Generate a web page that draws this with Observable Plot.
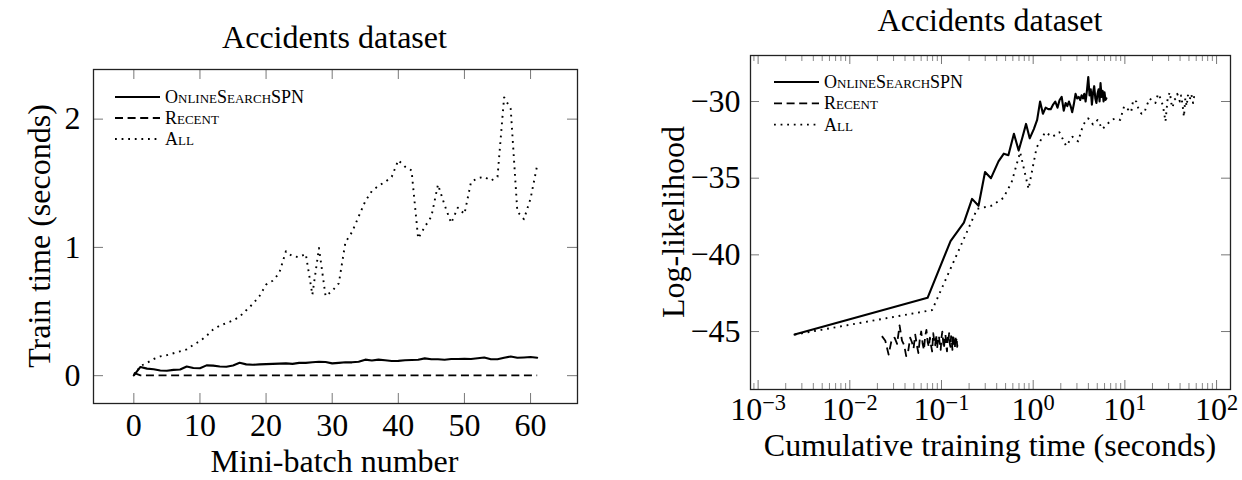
<!DOCTYPE html>
<html><head><meta charset="utf-8">
<script src="https://cdn.jsdelivr.net/npm/d3@7"></script>
<script src="https://cdn.jsdelivr.net/npm/@observablehq/plot@0.6"></script>
<style>
body{margin:0;background:#fff;}
#wrap{position:relative;width:1242px;height:480px;overflow:hidden;background:#fff;}
#left{position:absolute;left:0;top:0;}
#right{position:absolute;left:620px;top:0;}
svg text{font-family:"Liberation Serif","DejaVu Serif",serif;}
</style></head><body><div id="wrap"><div id="left"></div><div id="right"></div></div>
<script>
// ---------- data ----------
const seriesNames = ["OnlineSearchSPN", "Recent", "All"];
const titleText = "Accidents dataset";

// Left panel: train time per mini-batch
const batch = [0,1,2,3,4,5,6,7,8,9,10,11,12,13,14,15,16,17,18,19,20,21,22,23,24,25,26,27,28,29,30,31,32,33,34,35,36,37,38,39,40,41,42,43,44,45,46,47,48,49,50,51,52,53,54,55,56,57,58,59,60,61];
const onlineTime = [0.0025,0.068,0.055,0.05,0.04,0.038,0.045,0.048,0.072,0.06,0.058,0.08,0.078,0.072,0.07,0.08,0.1,0.088,0.085,0.088,0.09,0.092,0.094,0.096,0.092,0.1,0.1,0.104,0.108,0.106,0.096,0.1,0.104,0.104,0.108,0.125,0.118,0.125,0.12,0.114,0.115,0.12,0.122,0.124,0.135,0.128,0.128,0.124,0.13,0.13,0.132,0.13,0.136,0.142,0.128,0.128,0.14,0.15,0.14,0.142,0.145,0.14];
const recentTime = [0.0224,0.0020,0.0021,0.0022,0.0021,0.0020,0.0021,0.0022,0.0021,0.0020,0.0021,0.0022,0.0021,0.0020,0.0021,0.0022,0.0021,0.0020,0.0021,0.0022,0.0021,0.0020,0.0021,0.0022,0.0021,0.0020,0.0021,0.0022,0.0021,0.0020,0.0021,0.0022,0.0021,0.0020,0.0021,0.0022,0.0021,0.0020,0.0021,0.0022,0.0021,0.0020,0.0021,0.0022,0.0021,0.0020,0.0021,0.0022,0.0021,0.0020,0.0021,0.0022,0.0021,0.0020,0.0021,0.0022,0.0021,0.0020,0.0021,0.0022,0.0021,0.0020];
const allTime = [0.0025,0.075,0.1,0.13,0.15,0.16,0.175,0.19,0.205,0.24,0.27,0.31,0.36,0.39,0.41,0.43,0.46,0.51,0.56,0.62,0.71,0.74,0.80,0.97,0.93,0.925,0.95,0.63,0.995,0.62,0.66,0.72,1.04,1.12,1.24,1.36,1.44,1.48,1.51,1.55,1.68,1.63,1.60,1.07,1.16,1.24,1.49,1.33,1.19,1.31,1.26,1.51,1.54,1.55,1.52,1.55,2.17,2.08,1.28,1.22,1.38,1.64];
const leftXTicks = [0,10,20,30,40,50,60];
const leftYTicks = [0,1,2];

// Right panel: log-likelihood vs cumulative training time
const onlineCumTime = [0.0025,0.0705,0.1255,0.1755,0.2155,0.2535,0.2985,0.3465,0.4185,0.4785,0.5365,0.6165,0.6945,0.7665,0.8365,0.9165,1.0165,1.1045,1.1895,1.2775,1.3675,1.4595,1.5535,1.6495,1.7415,1.8415,1.9415,2.0455,2.1535,2.2595,2.3555,2.4555,2.5595,2.6635,2.7715,2.8965,3.0145,3.1395,3.2595,3.3735,3.4885,3.6085,3.7305,3.8545,3.9895,4.1175,4.2455,4.3695,4.4995,4.6295,4.7615,4.8915,5.0275,5.1695,5.2975,5.4255,5.5655,5.7155,5.8555,5.9975,6.1425,6.2825];
const onlineLL = [-45.2,-42.8,-39.1,-37.9,-36.35,-36.8,-34.6,-35.0,-33.9,-33.4,-33.5,-32.1,-33.2,-32.3,-31.46,-32.4,-31.8,-31.2,-30.0,-30.8,-30.4,-30.5,-30.5,-30.2,-30.0,-30.4,-29.9,-29.7,-30.6,-30.1,-30.3,-30.0,-30.3,-30.7,-30.2,-29.5,-29.8,-29.7,-29.9,-29.6,-29.8,-29.5,-30.0,-29.3,-28.4,-29.6,-29.2,-30.2,-29.4,-29.0,-29.8,-30.1,-29.5,-29.2,-30.0,-28.8,-29.7,-29.3,-30.0,-29.4,-29.9,-29.8];
const recentCumTime = [0.0224,0.0244,0.0265,0.0287,0.0308,0.0328,0.0349,0.0371,0.0392,0.0412,0.0433,0.0455,0.0476,0.0496,0.0517,0.0539,0.0560,0.0580,0.0601,0.0623,0.0644,0.0664,0.0685,0.0707,0.0728,0.0748,0.0769,0.0791,0.0812,0.0832,0.0853,0.0875,0.0896,0.0916,0.0937,0.0959,0.0980,0.1000,0.1021,0.1043,0.1064,0.1084,0.1105,0.1127,0.1148,0.1168,0.1189,0.1211,0.1232,0.1252,0.1273,0.1295,0.1316,0.1336,0.1357,0.1379,0.1400,0.1420,0.1441,0.1463,0.1484,0.1504];
const recentLL = [-45.3,-45.6,-46.5,-45.5,-45.4,-45.8,-44.6,-45.6,-45.9,-46.6,-46.3,-45.4,-45.7,-46.1,-45.2,-45.9,-46.4,-45.5,-45.0,-45.8,-46.2,-45.3,-44.9,-45.7,-46.0,-45.4,-45.9,-46.3,-45.1,-45.6,-45.9,-45.2,-46.1,-45.5,-45.3,-45.8,-46.2,-45.4,-45.0,-45.7,-46.1,-45.5,-45.2,-45.9,-46.3,-45.4,-45.7,-45.1,-45.8,-46.0,-45.3,-45.6,-46.2,-45.2,-45.5,-45.9,-46.1,-45.3,-45.7,-45.4,-46.0,-45.6];
const allCumTime = [0.0025,0.079,0.245,0.35,0.47,0.58,0.72,0.89,1.09,1.35,1.62,1.93,2.29,2.68,3.09,3.52,3.98,4.49,5.05,5.67,6.38,7.12,7.92,8.89,9.82,10.75,11.70,12.33,13.32,13.94,14.60,15.32,16.36,17.48,18.72,20.08,21.52,23.00,24.51,26.06,27.74,29.37,30.97,32.04,33.20,34.44,35.93,37.26,38.45,39.76,41.02,42.53,44.07,45.62,47.14,48.69,50.86,52.94,54.22,55.44,56.82,58.46];
const allLL = [-45.2,-43.6,-37.0,-36.8,-36.3,-35.3,-33.3,-35.7,-33.0,-32.0,-32.3,-32.0,-32.9,-32.3,-32.6,-31.5,-31.1,-31.5,-31.2,-31.8,-31.5,-31.2,-31.1,-31.2,-30.3,-30.5,-30.7,-29.9,-30.0,-30.4,-30.7,-30.8,-30.7,-30.2,-29.8,-30.0,-30.1,-29.5,-29.8,-30.3,-31.3,-29.7,-29.4,-30.1,-30.4,-29.9,-29.8,-29.5,-29.7,-30.0,-29.6,-30.2,-31.0,-29.8,-30.3,-29.6,-29.9,-29.5,-29.8,-30.1,-29.7,-30.0];
const rightXTicks = [1e-3,1e-2,1e-1,1,10,100];
const rightYTicks = [-45,-40,-35,-30];

// ---------- styles ----------
const FONT = '"Liberation Serif","DejaVu Serif",serif';
const styles = [
  {dash: null, width: 2.1},
  {dash: "8,4.6", width: 1.8},
  {dash: "1.8,4.8", width: 1.9}
];
const tickStroke = "#555";

function rows(xs, ys) { return xs.map((x, i) => ({x, y: ys[i]})); }

function addLegend(svg, x0, y0, gap, size) {
  const g = d3.select(svg).append("g");
  seriesNames.forEach((name, i) => {
    const y = y0 + i * gap;
    const l = g.append("line").attr("x1", x0).attr("x2", x0 + 45).attr("y1", y).attr("y2", y)
      .attr("stroke", "black").attr("stroke-width", styles[i].width);
    if (styles[i].dash) l.attr("stroke-dasharray", styles[i].dash);
    g.append("text").attr("x", x0 + 50).attr("y", y + 6).attr("text-anchor", "start")
      .style("font-size", size + "px").style("font-family", FONT)
      .style("font-variant", "small-caps").attr("fill", "black").text(name);
  });
}
function addText(svg, x, y, txt, size, rotate) {
  const t = d3.select(svg).append("text").style("font-family", FONT).style("font-size", size + "px")
    .attr("text-anchor", "middle").attr("fill", "black").text(txt);
  if (rotate) t.attr("transform", `translate(${x},${y}) rotate(-90)`);
  else t.attr("x", x).attr("y", y);
}

// ---------- left panel ----------
{
  const W = 620, H = 480, m = {t: 69, r: 43, b: 77, l: 93};
  const fh = H - m.t - m.b, fw = W - m.l - m.r, tl = 10;
  const svg = Plot.plot({
    width: W, height: H, marginTop: m.t, marginRight: m.r, marginBottom: m.b, marginLeft: m.l,
    style: {fontFamily: FONT, background: "white", color: "black", fontSize: "32px"},
    x: {domain: [-6.1, 67.1]},
    y: {domain: [-0.217, 2.387]},
    marks: [
      Plot.tickX(leftXTicks, {x: d => d, insetTop: fh - tl, stroke: tickStroke, strokeWidth: 0.8}),
      Plot.tickX(leftXTicks, {x: d => d, insetBottom: fh - tl, stroke: tickStroke, strokeWidth: 0.8}),
      Plot.tickY(leftYTicks, {y: d => d, insetRight: fw - tl, stroke: tickStroke, strokeWidth: 0.8}),
      Plot.tickY(leftYTicks, {y: d => d, insetLeft: fw - tl, stroke: tickStroke, strokeWidth: 0.8}),
      Plot.line(rows(batch, recentTime), {x: "x", y: "y", stroke: "black", strokeWidth: styles[1].width, strokeDasharray: styles[1].dash, strokeLinecap: "butt"}),
      Plot.line(rows(batch, allTime), {x: "x", y: "y", stroke: "black", strokeWidth: styles[2].width, strokeDasharray: styles[2].dash, strokeLinecap: "butt"}),
      Plot.line(rows(batch, onlineTime), {x: "x", y: "y", stroke: "black", strokeWidth: styles[0].width}),
      Plot.axisX(leftXTicks, {tickSize: 0, tickPadding: 10, fontSize: 32, label: null, tickFormat: d => String(d)}),
      Plot.axisY(leftYTicks, {tickSize: 0, tickPadding: 13, fontSize: 32, label: null, tickFormat: d => String(d)}),
      Plot.frame({stroke: "#222", strokeWidth: 1.3})
    ]
  });
  document.getElementById("left").appendChild(svg);
  addText(svg, 334.5, 47.5, titleText, 32);
  addText(svg, 334.5, 472, "Mini-batch number", 32);
  addText(svg, 50, 236, "Train time (seconds)", 32, true);
  addLegend(svg, 115, 97, 21, 18);
}

// ---------- right panel ----------
{
  const W = 622, H = 480, m = {t: 55, r: 12, b: 91, l: 130};
  const fh = H - m.t - m.b, fw = W - m.l - m.r, tl = 9, tm = 6;
  const xDomain = [8.26e-4, 141.9];
  const minorTicks = d3.scaleLog().domain(xDomain).ticks().filter(d => Math.abs(Math.log10(d) - Math.round(Math.log10(d))) > 1e-6);
  const expFmt = d => { const e = Math.round(Math.log10(d)); return e < 0 ? "\u2212" + (-e) : String(e); };
  const svg = Plot.plot({
    width: W, height: H, marginTop: m.t, marginRight: m.r, marginBottom: m.b, marginLeft: m.l,
    style: {fontFamily: FONT, background: "white", color: "black", fontSize: "32px"},
    x: {type: "log", domain: xDomain},
    y: {domain: [-48.78, -27.0]},
    marks: [
      Plot.tickX(rightXTicks, {x: d => d, insetTop: fh - tl, stroke: tickStroke, strokeWidth: 0.8}),
      Plot.tickX(rightXTicks, {x: d => d, insetBottom: fh - tl, stroke: tickStroke, strokeWidth: 0.8}),
      Plot.tickX(minorTicks, {x: d => d, insetTop: fh - tm, stroke: tickStroke, strokeWidth: 0.7}),
      Plot.tickX(minorTicks, {x: d => d, insetBottom: fh - tm, stroke: tickStroke, strokeWidth: 0.7}),
      Plot.tickY(rightYTicks, {y: d => d, insetRight: fw - tl, stroke: tickStroke, strokeWidth: 0.8}),
      Plot.tickY(rightYTicks, {y: d => d, insetLeft: fw - tl, stroke: tickStroke, strokeWidth: 0.8}),
      Plot.line(rows(recentCumTime, recentLL), {x: "x", y: "y", stroke: "black", strokeWidth: styles[1].width, strokeDasharray: styles[1].dash, strokeLinecap: "butt"}),
      Plot.line(rows(allCumTime, allLL), {x: "x", y: "y", stroke: "black", strokeWidth: styles[2].width, strokeDasharray: styles[2].dash, strokeLinecap: "butt"}),
      Plot.line(rows(onlineCumTime, onlineLL), {x: "x", y: "y", stroke: "black", strokeWidth: styles[0].width}),
      Plot.axisX(rightXTicks, {tickSize: 0, tickPadding: 8, fontSize: 32, label: null, tickFormat: expFmt}),
      Plot.axisY(rightYTicks, {tickSize: 0, tickPadding: 10, fontSize: 32, label: null}),
      Plot.frame({stroke: "#222", strokeWidth: 1.3})
    ]
  });
  document.getElementById("right").appendChild(svg);
  d3.select(svg).selectAll('g[aria-label="x-axis tick label"] text').each(function () {
    const e = this.textContent; const t = d3.select(this); t.text(null);
    t.append("tspan").text("10");
    t.append("tspan").attr("dy", "-0.45em").style("font-size", "0.7em").text(e);
  });
  addText(svg, 370, 31, titleText, 32);
  addText(svg, 370, 456, "Cumulative training time (seconds)", 32);
  addText(svg, 64, 222, "Log-likelihood", 32, true);
  addLegend(svg, 154, 82, 21.3, 18);
}
</script>
</body></html>
